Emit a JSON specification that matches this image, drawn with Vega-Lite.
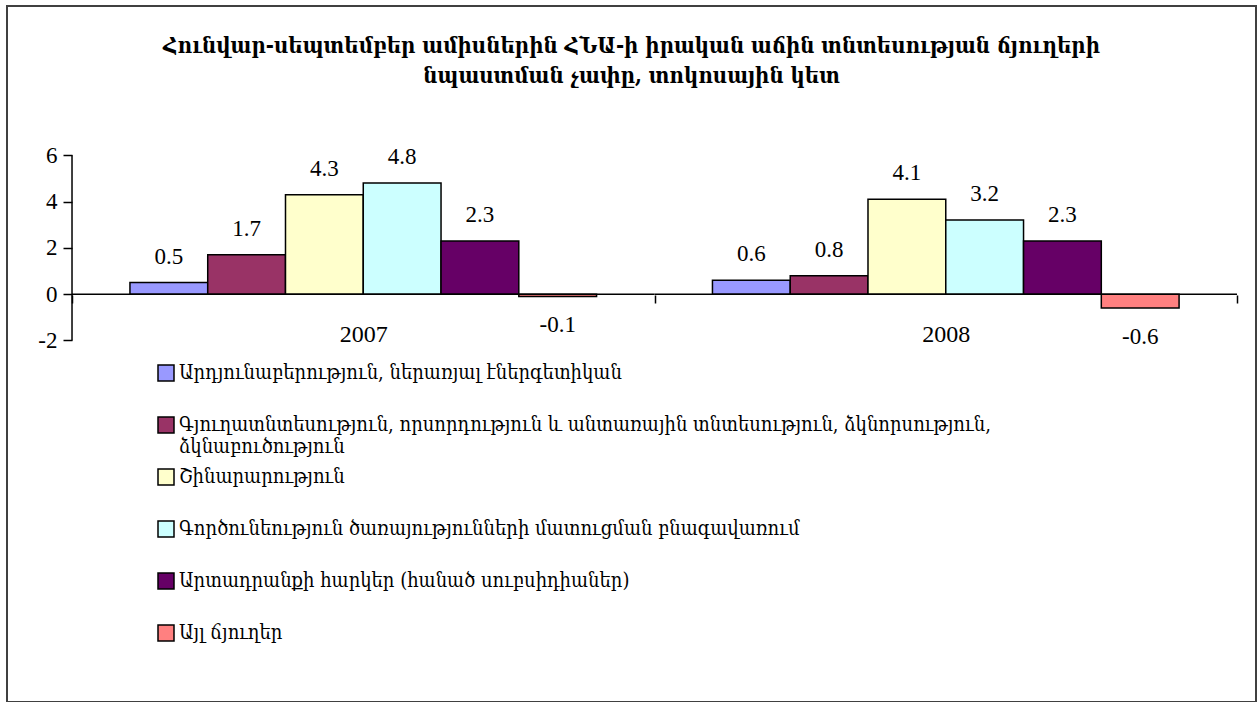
{
  "$schema": "https://vega.github.io/schema/vega-lite/v6.json",
  "width": 1249,
  "height": 696,
  "autosize": {"type": "none"},
  "padding": {"left": 7, "top": 6, "right": 2, "bottom": 0},
  "background": "white",
  "title": {
    "text": ["Հունվար-սեպտեմբեր ամիսներին ՀՆԱ-ի իրական աճին տնտեսության ճյուղերի", "նպաստման չափը, տոկոսային կետ"],
    "font": "DejaVu Serif Condensed",
    "fontSize": 22,
    "fontWeight": "bold",
    "color": "black",
    "anchor": "middle",
    "frame": "group",
    "baseline": "top",
    "offset": -82,
    "lineHeight": 30
  },
  "config": {
    "view": {"stroke": "#404040", "strokeWidth": 2},
    "axis": {"grid": false}
  },
  "datasets": {
    "main": [
      {"year": "2007", "sector": "Արդյունաբերություն, ներառյալ էներգետիկան", "value": 0.5},
      {"year": "2007", "sector": "Գյուղատնտեսություն, որսորդություն և անտառային տնտեսություն, ձկնորսություն, ձկնաբուծություն", "value": 1.7},
      {"year": "2007", "sector": "Շինարարություն", "value": 4.3},
      {"year": "2007", "sector": "Գործունեություն ծառայությունների մատուցման բնագավառում", "value": 4.8},
      {"year": "2007", "sector": "Արտադրանքի հարկեր (հանած սուբսիդիաներ)", "value": 2.3},
      {"year": "2007", "sector": "Այլ ճյուղեր", "value": -0.1},
      {"year": "2008", "sector": "Արդյունաբերություն, ներառյալ էներգետիկան", "value": 0.6},
      {"year": "2008", "sector": "Գյուղատնտեսություն, որսորդություն և անտառային տնտեսություն, ձկնորսություն, ձկնաբուծություն", "value": 0.8},
      {"year": "2008", "sector": "Շինարարություն", "value": 4.1},
      {"year": "2008", "sector": "Գործունեություն ծառայությունների մատուցման բնագավառում", "value": 3.2},
      {"year": "2008", "sector": "Արտադրանքի հարկեր (հանած սուբսիդիաներ)", "value": 2.3},
      {"year": "2008", "sector": "Այլ ճյուղեր", "value": -0.6}
    ],
    "years": [{"year": "2007"}, {"year": "2008"}]
  },
  "data": {"name": "main"},
  "encoding": {
    "x": {
      "field": "year",
      "type": "nominal",
      "scale": {"paddingInner": 0, "paddingOuter": 0.0721, "align": 0.774},
      "axis": {
        "title": null,
        "orient": "bottom",
        "offset": -407,
        "domain": false,
        "tickBand": "extent",
        "tickSize": 8,
        "tickColor": "black",
        "tickWidth": 1.5,
        "labelAngle": 0,
        "labelFont": "Liberation Serif",
        "labelFontSize": 24,
        "labelColor": "black",
        "labelPadding": 19
      }
    }
  },
  "layer": [
    {
      "mark": {"type": "bar", "stroke": "black", "strokeWidth": 1.5},
      "encoding": {
        "xOffset": {
          "field": "sector",
          "type": "nominal",
          "sort": ["Արդյունաբերություն, ներառյալ էներգետիկան", "Գյուղատնտեսություն, որսորդություն և անտառային տնտեսություն, ձկնորսություն, ձկնաբուծություն", "Շինարարություն", "Գործունեություն ծառայությունների մատուցման բնագավառում", "Արտադրանքի հարկեր (հանած սուբսիդիաներ)", "Այլ ճյուղեր"],
          "scale": {"paddingInner": 0, "paddingOuter": 0.745}
        },
        "y": {
          "field": "value",
          "type": "quantitative",
          "scale": {"domain": [-17.62, 12.45], "nice": false, "zero": false},
          "axis": {
            "title": null,
            "orient": "left",
            "offset": -65,
            "domain": false,
            "values": [-2, 0, 2, 4, 6],
            "labelExpr": "'' + datum.value",
            "tickSize": 9,
            "tickColor": "black",
            "tickWidth": 1.5,
            "labelFont": "Liberation Serif",
            "labelFontSize": 23,
            "labelColor": "black",
            "labelPadding": 6
          }
        },
        "color": {
          "field": "sector",
          "type": "nominal",
          "scale": {
            "domain": ["Արդյունաբերություն, ներառյալ էներգետիկան", "Գյուղատնտեսություն, որսորդություն և անտառային տնտեսություն, ձկնորսություն, ձկնաբուծություն", "Շինարարություն", "Գործունեություն ծառայությունների մատուցման բնագավառում", "Արտադրանքի հարկեր (հանած սուբսիդիաներ)", "Այլ ճյուղեր"],
            "range": ["#9999FF", "#993366", "#FFFFCC", "#CCFFFF", "#660066", "#FF8080"]
          },
          "legend": {
            "title": null,
            "orient": "none",
            "legendX": 149,
            "legendY": 357,
            "padding": 0,
            "direction": "vertical",
            "symbolType": "square",
            "symbolSize": 256,
            "symbolStrokeColor": "black",
            "symbolStrokeWidth": 1.5,
            "symbolOpacity": 1,
            "labelFont": "DejaVu Serif Condensed",
            "labelFontSize": 20,
            "labelColor": "black",
            "labelOffset": 3,
            "labelLimit": 0,
            "rowPadding": 9,
            "gridAlign": "all",
            "labelExpr": "datum.label == 'Գյուղատնտեսություն, որսորդություն և անտառային տնտեսություն, ձկնորսություն, ձկնաբուծություն' ? ['Գյուղատնտեսություն, որսորդություն և անտառային տնտեսություն, ձկնորսություն,', 'ձկնաբուծություն'] : datum.label"
          }
        }
      }
    },
    {
      "transform": [{"filter": "datum.value >= 0"}],
      "mark": {"type": "text", "font": "Liberation Serif", "fontSize": 23, "color": "black", "baseline": "middle", "dy": -26},
      "encoding": {
        "xOffset": {"field": "sector", "type": "nominal", "sort": ["Արդյունաբերություն, ներառյալ էներգետիկան", "Գյուղատնտեսություն, որսորդություն և անտառային տնտեսություն, ձկնորսություն, ձկնաբուծություն", "Շինարարություն", "Գործունեություն ծառայությունների մատուցման բնագավառում", "Արտադրանքի հարկեր (հանած սուբսիդիաներ)", "Այլ ճյուղեր"]},
        "y": {"field": "value", "type": "quantitative"},
        "text": {"field": "value", "type": "nominal"}
      }
    },
    {
      "transform": [{"filter": "datum.value < 0"}],
      "mark": {"type": "text", "font": "Liberation Serif", "fontSize": 23, "color": "black", "baseline": "middle", "dy": 29},
      "encoding": {
        "xOffset": {"field": "sector", "type": "nominal", "sort": ["Արդյունաբերություն, ներառյալ էներգետիկան", "Գյուղատնտեսություն, որսորդություն և անտառային տնտեսություն, ձկնորսություն, ձկնաբուծություն", "Շինարարություն", "Գործունեություն ծառայությունների մատուցման բնագավառում", "Արտադրանքի հարկեր (հանած սուբսիդիաներ)", "Այլ ճյուղեր"]},
        "y": {"field": "value", "type": "quantitative"},
        "text": {"field": "value", "type": "nominal"}
      }
    },
    {
      "data": {"name": "years"},
      "mark": {"type": "rect", "fill": null, "stroke": "black", "strokeWidth": 1.5},
      "encoding": {
        "y": {"datum": 0},
        "y2": {"datum": 0}
      }
    },
    {
      "data": {"name": "years"},
      "transform": [{"filter": "datum.year == '2007'"}],
      "mark": {"type": "rule", "color": "black", "strokeWidth": 1.5},
      "encoding": {
        "x": {"field": "year", "type": "nominal", "bandPosition": 0},
        "y": {"datum": -2},
        "y2": {"datum": 6}
      }
    }
  ]
}
